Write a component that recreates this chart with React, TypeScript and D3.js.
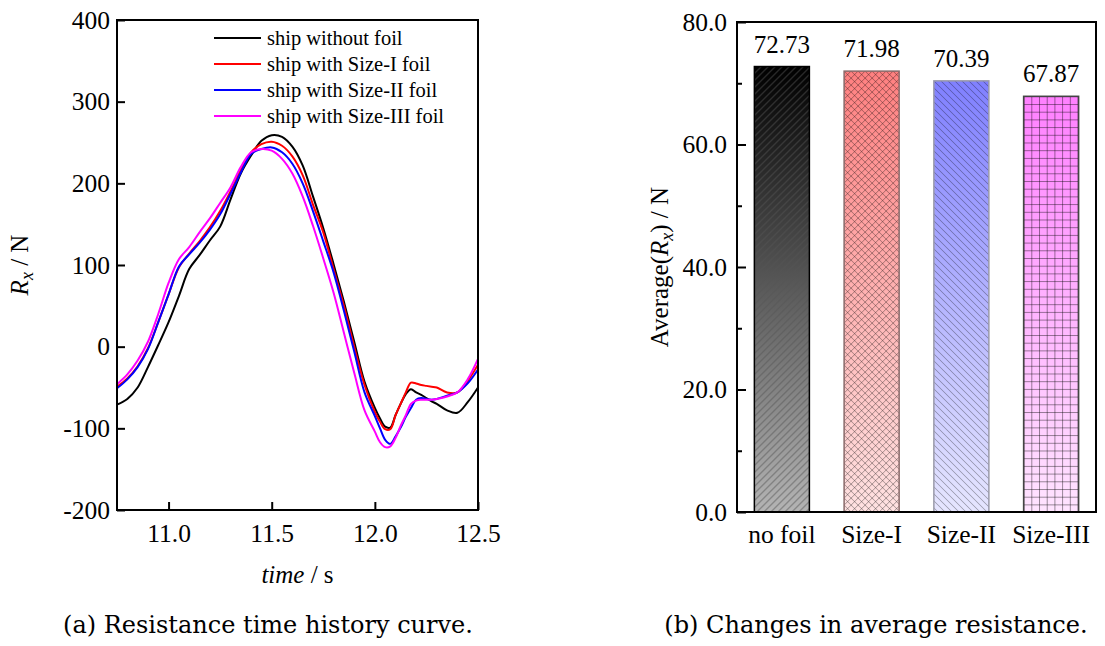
import React, { useEffect, useRef } from 'react';
import * as d3 from 'd3';

// time history of the resistance Rx (N)
const time = [
  10.75, 10.8, 10.85, 10.9, 10.95, 11.0, 11.05, 11.1, 11.15, 11.2, 11.25, 11.3, 11.35, 11.4,
  11.45, 11.5, 11.55, 11.6, 11.65, 11.7, 11.75, 11.8, 11.85, 11.9, 11.95, 12.0,
  12.025, 12.05, 12.075, 12.1, 12.125, 12.15, 12.175, 12.2, 12.225, 12.25, 12.275, 12.3,
  12.35, 12.4, 12.45, 12.5,
];
const noFoil = [
  -71, -64, -50, -25, 2, 30, 62, 95, 112, 130, 147, 180, 212, 234,
  252, 259, 257, 245, 222, 184, 145, 101, 55, 6, -43, -75,
  -88, -98, -99, -84, -70, -58, -52, -56, -59, -63, -67, -70,
  -78, -81, -68, -50,
];
const sizeI = [
  -49, -39, -24, -2, 30, 64, 97, 114, 129, 146, 166, 190, 216, 238,
  248, 251, 246, 233, 210, 174, 140, 95, 50, 0, -47, -80,
  -92, -101, -101, -84, -70, -56, -44, -45, -47, -48, -49, -50,
  -56, -56, -42, -22,
];
const sizeII = [
  -51, -40, -25, -3, 30, 64, 98, 113, 127, 143, 162, 187, 213, 236,
  242, 244, 238, 224, 200, 166, 129, 91, 44, -6, -56, -85,
  -100, -114, -119, -110, -99, -86, -75, -65, -63, -64, -65, -64,
  -60, -56, -45, -28,
];
const sizeIII = [
  -46, -34, -17, 6, 40, 78, 107, 122, 140, 157, 176, 195, 220, 238,
  242, 240, 230, 212, 184, 148, 108, 66, 17, -32, -78, -104,
  -117, -123, -122, -112, -97, -84, -70, -66, -65, -65, -65, -64,
  -61, -56, -40, -15,
];
const seriesNames = ['ship without foil', 'ship with Size-I foil', 'ship with Size-II foil', 'ship with Size-III foil'];
const seriesColors = ['#000000', '#ff0000', '#0000ff', '#ff00ff'];
const timeTicks = [11.0, 11.5, 12.0, 12.5];
const forceTicks = [-200, -100, 0, 100, 200, 300, 400];

// average resistance per case
const barCategories = ['no foil', 'Size-I', 'Size-II', 'Size-III'];
const barValues = [72.73, 71.98, 70.39, 67.87];
const barTopColors = ['#000000', '#ff8080', '#8080ff', '#ff80ff'];
const barBottomColors = ['#b4b4b4', '#ffe2e2', '#e6e6ff', '#ffe4ff'];
const barEdgeColors = ['#000000', '#8a6a6a', '#9a9aaa', '#444444'];
const barHatchColors = ['#555555', 'rgba(0,0,0,0.4)', 'rgba(0,0,0,0.4)', 'rgba(0,0,0,0.45)'];
const barHatches = ['slash', 'cross', 'backslash', 'grid'];
const averageTicks = [0, 20, 40, 60, 80];
const averageMinorTicks = [10, 30, 50, 70];

const W = 1105;
const H = 646;
const FONT = "'Liberation Serif', 'DejaVu Serif', serif";
const CAPTION_FONT = "'DejaVu Serif', 'Liberation Serif', serif";
const TICK_SIZE = 25.5;

type Sel = d3.Selection<SVGSVGElement, unknown, null, undefined>;

// plain hyphen for negatives
const intFormat = (d: d3.NumberValue) => String(Math.round(+d));

function styleAxis(a: d3.Selection<SVGGElement, unknown, null, undefined>, size: number) {
  a.attr('font-family', null).attr('font-size', size);
  a.select('.domain').remove();
  a.selectAll('.tick line').attr('stroke', '#000').attr('stroke-width', 2);
  a.selectAll('.tick text').attr('fill', '#000');
}

function drawHistory(svg: Sel) {
  const left = 117, right = 478, top = 20, bottom = 510;
  const x = d3.scaleLinear().domain([10.75, 12.5]).range([left, right]);
  const y = d3.scaleLinear().domain([-200, 400]).range([bottom, top]);
  const g = svg.append('g');

  g.append('clipPath').attr('id', 'history-clip')
    .append('rect').attr('x', left).attr('y', top).attr('width', right - left).attr('height', bottom - top);

  const line = d3.line<number>()
    .x((_, i) => x(time[i]))
    .y((d) => y(d))
    .curve(d3.curveCatmullRom.alpha(0.5));

  g.append('g').attr('clip-path', 'url(#history-clip)')
    .selectAll('path')
    .data([noFoil, sizeI, sizeII, sizeIII])
    .join('path')
    .attr('fill', 'none')
    .attr('stroke', (_, i) => seriesColors[i])
    .attr('stroke-width', 2)
    .attr('d', (d) => line(d));

  g.append('g')
    .attr('transform', `translate(0,${bottom})`)
    .call(d3.axisBottom(x).tickValues(timeTicks).tickFormat(d3.format('.1f')).tickSize(-8).tickPadding(14))
    .call((a) => styleAxis(a, TICK_SIZE));

  g.append('g')
    .attr('transform', `translate(${left},0)`)
    .call(d3.axisLeft(y).tickValues(forceTicks).tickFormat(intFormat).tickSize(-8).tickPadding(7))
    .call((a) => styleAxis(a, TICK_SIZE));

  g.append('rect')
    .attr('x', left).attr('y', top).attr('width', right - left).attr('height', bottom - top)
    .attr('fill', 'none').attr('stroke', '#000').attr('stroke-width', 2);

  // legend
  const legend = g.append('g').attr('font-size', 20.5);
  seriesNames.forEach((name, i) => {
    const ly = 38 + i * 26;
    legend.append('line').attr('x1', 214).attr('x2', 261).attr('y1', ly).attr('y2', ly)
      .attr('stroke', seriesColors[i]).attr('stroke-width', 2);
    legend.append('text').attr('x', 267).attr('y', ly).attr('dy', '0.33em').text(name);
  });

  // axis titles
  const yt = g.append('text')
    .attr('transform', `translate(28,${(top + bottom) / 2}) rotate(-90)`)
    .attr('text-anchor', 'middle').attr('font-size', 25);
  yt.append('tspan').attr('font-style', 'italic').text('R');
  yt.append('tspan').attr('font-style', 'italic').attr('font-size', 18).attr('dy', 5).text('x');
  yt.append('tspan').attr('dy', -5).text(' / N');

  const xt = g.append('text')
    .attr('x', (left + right) / 2).attr('y', 583)
    .attr('text-anchor', 'middle').attr('font-size', 25);
  xt.append('tspan').attr('font-style', 'italic').text('time');
  xt.append('tspan').text(' / s');
}

function drawAverage(svg: Sel) {
  const left = 737, right = 1096, top = 22, bottom = 512;
  const x = d3.scaleBand<string>().domain(barCategories).range([left, right])
    .paddingInner(0.387).paddingOuter(0.1935);
  const y = d3.scaleLinear().domain([0, 80]).range([bottom, top]);
  const g = svg.append('g');
  const defs = svg.append('defs');
  const s = 7;

  barValues.forEach((_, i) => {
    const grad = defs.append('linearGradient').attr('id', `bar-grad-${i}`)
      .attr('x1', 0).attr('y1', 0).attr('x2', 0).attr('y2', 1);
    grad.append('stop').attr('offset', '0%').attr('stop-color', barTopColors[i]);
    grad.append('stop').attr('offset', '100%').attr('stop-color', barBottomColors[i]);

    const slash = `M0,${s} L${s},0 M${-s / 2},${s / 2} L${s / 2},${-s / 2} M${s / 2},${s * 1.5} L${s * 1.5},${s / 2}`;
    const back = `M0,0 L${s},${s} M${-s / 2},${s / 2} L${s / 2},${s * 1.5} M${s / 2},${-s / 2} L${s * 1.5},${s / 2}`;
    const gs = 7.7;
    const paths: Record<string, string> = {
      slash,
      backslash: back,
      cross: slash + ' ' + back,
      grid: `M0,0.5 H${gs} M0.5,0 V${gs}`,
    };
    const size = barHatches[i] === 'grid' ? gs : s;
    defs.append('pattern').attr('id', `bar-hatch-${i}`)
      .attr('patternUnits', 'userSpaceOnUse')
      .attr('x', x(barCategories[i]) ?? 0).attr('y', y(barValues[i]))
      .attr('width', size).attr('height', size)
      .append('path').attr('d', paths[barHatches[i]])
      .attr('fill', 'none').attr('stroke', barHatchColors[i]).attr('stroke-width', 0.9);
  });

  const bars = g.selectAll('g.bar').data(barValues).join('g').attr('class', 'bar');
  const bx = (i: number) => x(barCategories[i]) ?? 0;
  bars.append('rect')
    .attr('x', (_, i) => bx(i)).attr('y', (d) => y(d))
    .attr('width', x.bandwidth()).attr('height', (d) => bottom - y(d))
    .attr('fill', (_, i) => `url(#bar-grad-${i})`);
  bars.append('rect')
    .attr('x', (_, i) => bx(i)).attr('y', (d) => y(d))
    .attr('width', x.bandwidth()).attr('height', (d) => bottom - y(d))
    .attr('fill', (_, i) => `url(#bar-hatch-${i})`)
    .attr('stroke', (_, i) => barEdgeColors[i]).attr('stroke-width', 1.5);
  bars.append('text')
    .attr('x', (_, i) => bx(i) + x.bandwidth() / 2).attr('y', (d) => y(d) - 14)
    .attr('text-anchor', 'middle').attr('font-size', 25)
    .text((d) => d3.format('.2f')(d));

  g.append('g')
    .attr('transform', `translate(0,${bottom})`)
    .call(d3.axisBottom(x).tickSize(0).tickPadding(13))
    .call((a) => styleAxis(a, TICK_SIZE));

  g.append('g')
    .attr('transform', `translate(${left},0)`)
    .call(d3.axisLeft(y).tickValues(averageTicks).tickFormat(d3.format('.1f')).tickSize(-9).tickPadding(10))
    .call((a) => styleAxis(a, TICK_SIZE));

  g.append('g')
    .attr('transform', `translate(${left},0)`)
    .call(d3.axisLeft(y).tickValues(averageMinorTicks).tickFormat(() => '').tickSize(-5))
    .call((a) => styleAxis(a, TICK_SIZE));

  g.append('rect')
    .attr('x', left).attr('y', top).attr('width', right - left).attr('height', bottom - top)
    .attr('fill', 'none').attr('stroke', '#000').attr('stroke-width', 2);

  const yt = g.append('text')
    .attr('transform', `translate(668,${(top + bottom) / 2}) rotate(-90)`)
    .attr('text-anchor', 'middle').attr('font-size', 25);
  yt.append('tspan').text('Average(');
  yt.append('tspan').attr('font-style', 'italic').text('R');
  yt.append('tspan').attr('font-style', 'italic').attr('font-size', 18).attr('dy', 5).text('x');
  yt.append('tspan').attr('dy', -5).text(') / N');
}

const App = () => {
  const ref = useRef<SVGSVGElement>(null);

  useEffect(() => {
    if (!ref.current) return;
    const svg = d3.select(ref.current);
    svg.selectAll('*').remove();
    drawHistory(svg);
    drawAverage(svg);

    svg.append('text').attr('x', 268).attr('y', 633).attr('text-anchor', 'middle')
      .attr('font-family', CAPTION_FONT).attr('font-size', 24)
      .text('(a) Resistance time history curve.');
    svg.append('text').attr('x', 876).attr('y', 633).attr('text-anchor', 'middle')
      .attr('font-family', CAPTION_FONT).attr('font-size', 24)
      .text('(b) Changes in average resistance.');
  }, []);

  return (
    <svg
      ref={ref}
      width={W}
      height={H}
      style={{ position: 'absolute', left: 0, top: 0, background: '#fff', fontFamily: FONT }}
    />
  );
};

export default App;
